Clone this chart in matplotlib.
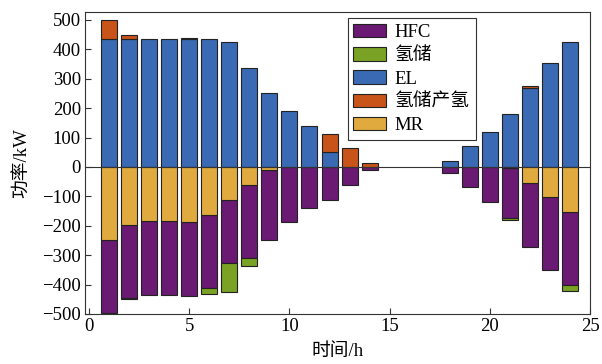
import numpy as np
import matplotlib.pyplot as plt

plt.rcParams['font.family'] = ['Liberation Serif', 'Noto Sans CJK SC']
plt.rcParams['axes.unicode_minus'] = True

# data (kW), hours 1..24
hours = np.arange(1, 25)
el = [435, 435, 435, 435, 435, 435, 424, 338, 250, 190, 139, 52,
      0, 0, 0, 0, 0, 21, 70, 119, 179, 267, 354, 425]
h2_prod = [65, 15, 0, 0, 5, 0, 0, 0, 0, 0, 0, 60,
           63, 12, 0, 0, 0, 0, 0, 0, 0, 7, 0, 0]
mr = [-249, -199, -185, -185, -188, -162, -112, -61, -12, 0, 0, 0,
      0, 0, 0, 0, 0, 0, 0, 0, -3, -53, -103, -152]
hfc = [-248, -246, -249, -249, -250, -249, -213, -250, -237, -186, -138, -111,
       -61, -10, 0, 0, 0, -19, -68, -120, -170, -218, -249, -251]
h2_store = [0, -3, 0, 0, 0, -22, -99, -26, 0, 0, 0, 0,
            0, 0, 0, 0, 0, 0, 0, 0, -6, 0, 0, -20]

c_hfc = '#6a1a72'
c_store = '#7aa225'
c_el = '#3a6ab3'
c_prod = '#c85419'
c_mr = '#e0aa3e'


def nz(v):
    # hide zero-height bars so no stray edge lines are drawn
    v = np.asarray(v, dtype=float)
    return np.where(v == 0, np.nan, v)


fig = plt.figure(figsize=(6.02, 3.64), dpi=100)
ax = fig.add_axes([0.1412, 0.1374, 0.839, 0.8305])

w = 0.8
kw = dict(width=w, edgecolor='#222222', linewidth=0.8)
el = np.array(el)
mr = np.array(mr)
hfc = np.array(hfc)
ax.bar(hours, nz(hfc), bottom=mr, color=c_hfc, label='HFC', **kw)
ax.bar(hours, nz(h2_store), bottom=mr + hfc, color=c_store, label='氢储', **kw)
ax.bar(hours, nz(el), color=c_el, label='EL', **kw)
ax.bar(hours, nz(h2_prod), bottom=el, color=c_prod, label='氢储产氢', **kw)
ax.bar(hours, nz(mr), color=c_mr, label='MR', **kw)
ax.axhline(0, color='#333333', linewidth=0.8)

ax.set_xlim(-0.2, 25)
ax.set_ylim(-500, 528)
ax.set_xticks(np.arange(0, 26, 5))
ax.set_yticks(np.arange(-500, 501, 100))
ax.tick_params(direction='in', labelsize=13.5, length=4, color='#333333', pad=3)
for s in ax.spines.values():
    s.set_color('#333333')
ax.set_xlabel('时间/h', fontsize=13.5, labelpad=6)
ax.set_ylabel('功率/kW', fontsize=13.5, labelpad=8)

leg = ax.legend(loc='upper left', bbox_to_anchor=(0.52, 0.978), borderaxespad=0,
                fontsize=13.5, fancybox=False, edgecolor='#333333', framealpha=1,
                handlelength=1.75, handleheight=0.72, labelspacing=0.32,
                handletextpad=0.47, borderpad=0.3)
leg.get_frame().set_linewidth(0.8)

fig.savefig('out.png', dpi=100)
